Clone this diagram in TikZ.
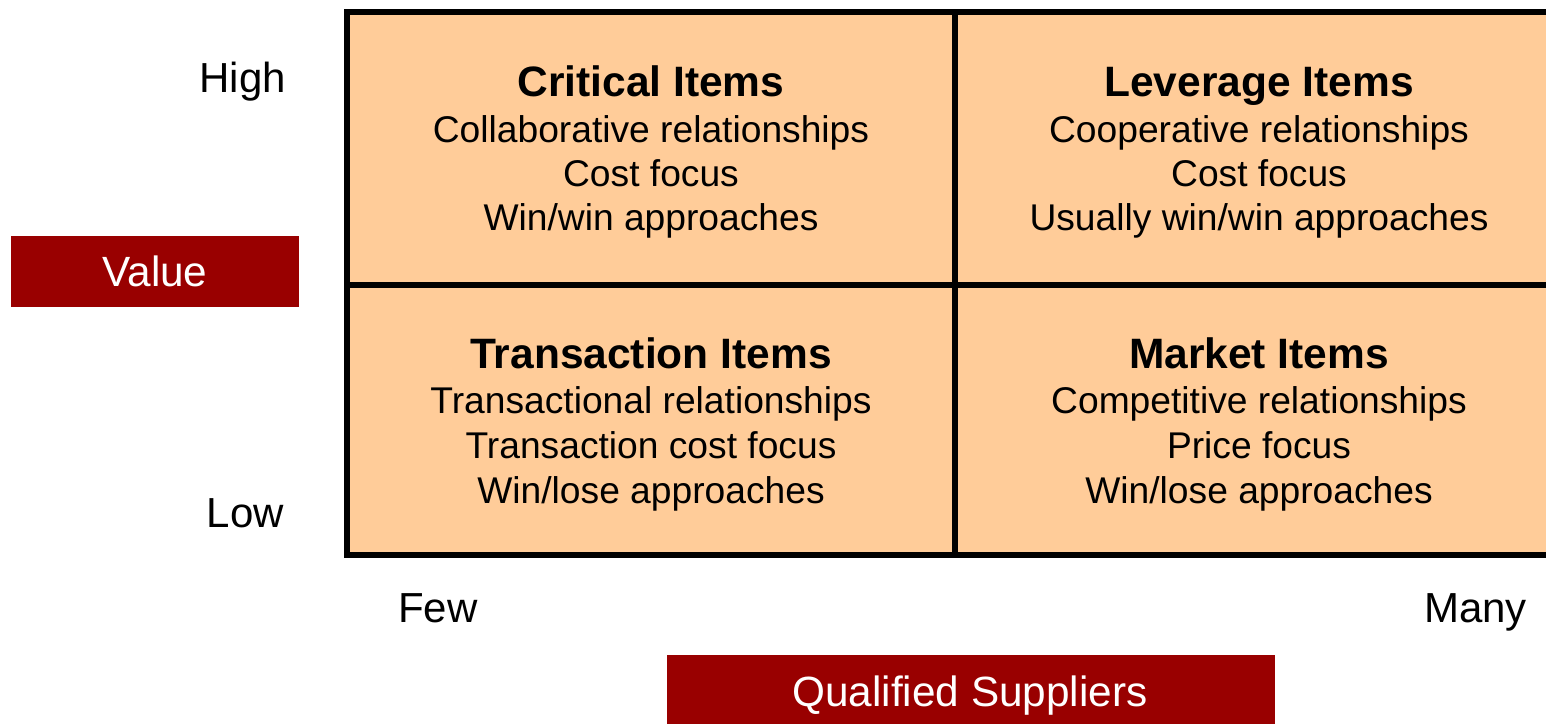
\documentclass[tikz,border=0pt]{standalone}
\usepackage{fontspec}
\setmainfont{Liberation Sans}
\definecolor{peach}{HTML}{FFCC99}
\definecolor{darkred}{HTML}{990000}
\begin{document}
\begin{tikzpicture}[x=1pt,y=-1pt,
  cell/.style={rectangle, draw=black, fill=peach, line width=6pt, inner sep=0pt},
  ttl/.style={anchor=base, inner sep=0pt, font=\fontsize{42.5}{50}\selectfont\bfseries},
  txt/.style={anchor=base, inner sep=0pt, font=\fontsize{37.2}{44}\selectfont},
  lbl/.style={inner sep=0pt, font=\fontsize{42}{49}\selectfont},
  redbox/.style={rectangle, fill=darkred, inner sep=0pt},
  redtxt/.style={anchor=base, inner sep=0pt, text=white, font=\fontsize{42.3}{49}\selectfont}]
\useasboundingbox (0,0) rectangle (1546,723);
\clip (0,0) rectangle (1546,723);
% cells
\node[cell, minimum width=608pt, minimum height=273pt] (tl) at (651,148.5) {};
\node[cell, minimum width=608pt, minimum height=273pt] (tr) at (1259,148.5) {};
\node[cell, minimum width=608pt, minimum height=270pt] (bl) at (651,420) {};
\node[cell, minimum width=608pt, minimum height=270pt] (br) at (1259,420) {};
% top-left
\node[ttl] (tl0) at (651,96) {Critical Items};
\node[txt] (tl1) at (651,142) {Collaborative relationships};
\node[txt] (tl2) at (651,186) {Cost focus};
\node[txt] (tl3) at (651,230) {Win/win approaches};
% top-right
\node[ttl] (tr0) at (1259,96) {Leverage Items};
\node[txt] (tr1) at (1259,142) {Cooperative relationships};
\node[txt] (tr2) at (1259,186) {Cost focus};
\node[txt] (tr3) at (1259,230) {Usually win/win approaches};
% bottom-left
\node[ttl] (bl0) at (651,368) {Transaction Items};
\node[txt] (bl1) at (651,413) {Transactional relationships};
\node[txt] (bl2) at (651,458) {Transaction cost focus};
\node[txt] (bl3) at (651,503) {Win/lose approaches};
% bottom-right
\node[ttl] (br0) at (1259,368) {Market Items};
\node[txt] (br1) at (1259,413) {Competitive relationships};
\node[txt] (br2) at (1259,458) {Price focus};
\node[txt] (br3) at (1259,503) {Win/lose approaches};
% axis labels
\node[lbl, anchor=base east] (high) at (286,92) {High};
\node[lbl, anchor=base east] (low) at (284,527) {Low};
\node[lbl, anchor=base west] (few) at (398,622) {Few};
\node[lbl, anchor=base east] (many) at (1527,622) {Many};
% red boxes
\node[redbox, minimum width=288pt, minimum height=71pt] (valbox) at (155,271.5) {};
\node[redtxt] (val) at (155,286) {Value};
\node[redbox, minimum width=608pt, minimum height=80pt] (qbox) at (971,695) {};
\node[redtxt] (qs) at (970,706) {Qualified Suppliers};
\end{tikzpicture}
\end{document}
